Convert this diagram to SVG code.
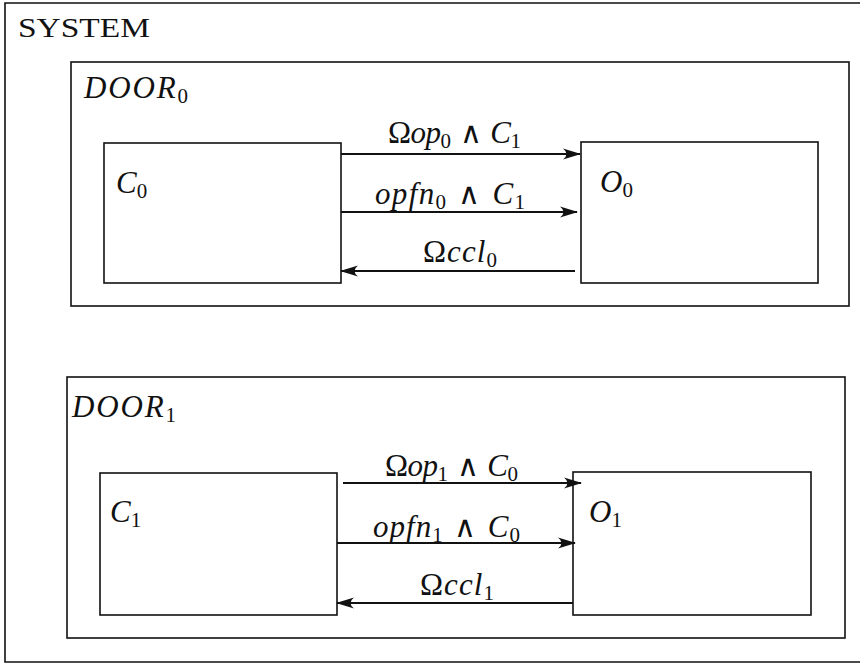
<svg xmlns="http://www.w3.org/2000/svg" width="860" height="666" viewBox="0 0 860 666">
<defs>
<style>
.box{fill:none;stroke:#111;stroke-width:1.6}
.conn{stroke:#111;stroke-width:1.8;fill:none}
.t{font-family:"Liberation Serif","Times New Roman",serif;fill:#111}
.m{font-family:"Liberation Serif","Times New Roman",serif;font-style:italic;fill:#111;font-size:31px}
.up{font-style:normal}
.and{font-style:normal;font-family:"DejaVu Sans",sans-serif;font-weight:200;font-size:30px}
.sub{font-style:normal;font-size:21px}
</style>
<marker id="ah" viewBox="0 0 18 12" refX="17" refY="6" markerWidth="18" markerHeight="12" markerUnits="userSpaceOnUse" orient="auto">
<path d="M0,0.5 L18,6 L0,11.5 Q7,6 0,0.5 Z" fill="#111"/>
</marker>
</defs>
<rect width="860" height="666" fill="#fff"/>
<g id="system">
<path class="box" d="M866,3 L5,3 L5,662 L866,662"/>
<text class="t" x="18" y="37" font-size="27" textLength="132" lengthAdjust="spacingAndGlyphs">SYSTEM</text>
</g>
<g id="door0">
<rect class="box" x="71" y="62" width="778" height="244"/>
<text class="m" x="84" y="98" textLength="104">DOOR<tspan class="sub" dy="5">0</tspan></text>
</g>
<g id="c0">
<rect class="box" x="104" y="143" width="237" height="140"/>
<text class="m" x="116" y="193">C<tspan class="sub" dy="5">0</tspan></text>
</g>
<g id="o0">
<rect class="box" x="581" y="142" width="237" height="141"/>
<text class="m" x="600" y="192">O<tspan class="sub" dy="5">0</tspan></text>
</g>
<g id="door1">
<rect class="box" x="67" y="377" width="778" height="261"/>
<text class="m" x="72" y="417" textLength="104">DOOR<tspan class="sub" dy="5">1</tspan></text>
</g>
<g id="c1">
<rect class="box" x="100" y="473" width="237" height="142"/>
<text class="m" x="110" y="522">C<tspan class="sub" dy="5">1</tspan></text>
</g>
<g id="o1">
<rect class="box" x="573" y="472" width="238" height="143"/>
<text class="m" x="589" y="522">O<tspan class="sub" dy="5">1</tspan></text>
</g>
<g id="connectors">
<line class="conn" x1="341" y1="154" x2="580" y2="154" marker-end="url(#ah)"/>
<line class="conn" x1="341" y1="212" x2="577" y2="212" marker-end="url(#ah)"/>
<line class="conn" x1="575" y1="271" x2="341" y2="271" marker-end="url(#ah)"/>
<line class="conn" x1="343" y1="483" x2="581" y2="483" marker-end="url(#ah)"/>
<line class="conn" x1="337" y1="543" x2="575" y2="543" marker-end="url(#ah)"/>
<line class="conn" x1="573" y1="603" x2="337" y2="603" marker-end="url(#ah)"/>
<text class="m" x="388" y="143" textLength="133"><tspan class="up">Ω</tspan>op<tspan class="sub" dy="5">0</tspan><tspan dy="-5" class="and"> ∧ </tspan>C<tspan class="sub" dy="5">1</tspan></text>
<text class="m" x="375" y="204" textLength="150">opfn<tspan class="sub" dy="5">0</tspan><tspan dy="-5" class="and"> ∧ </tspan>C<tspan class="sub" dy="5">1</tspan></text>
<text class="m" x="423" y="262" textLength="74"><tspan class="up">Ω</tspan>ccl<tspan class="sub" dy="5">0</tspan></text>
<text class="m" x="385" y="476" textLength="133"><tspan class="up">Ω</tspan>op<tspan class="sub" dy="5">1</tspan><tspan dy="-5" class="and"> ∧ </tspan>C<tspan class="sub" dy="5">0</tspan></text>
<text class="m" x="373" y="537" textLength="147">opfn<tspan class="sub" dy="5">1</tspan><tspan dy="-5" class="and"> ∧ </tspan>C<tspan class="sub" dy="5">0</tspan></text>
<text class="m" x="420" y="595" textLength="74"><tspan class="up">Ω</tspan>ccl<tspan class="sub" dy="5">1</tspan></text>
</g>
</svg>
